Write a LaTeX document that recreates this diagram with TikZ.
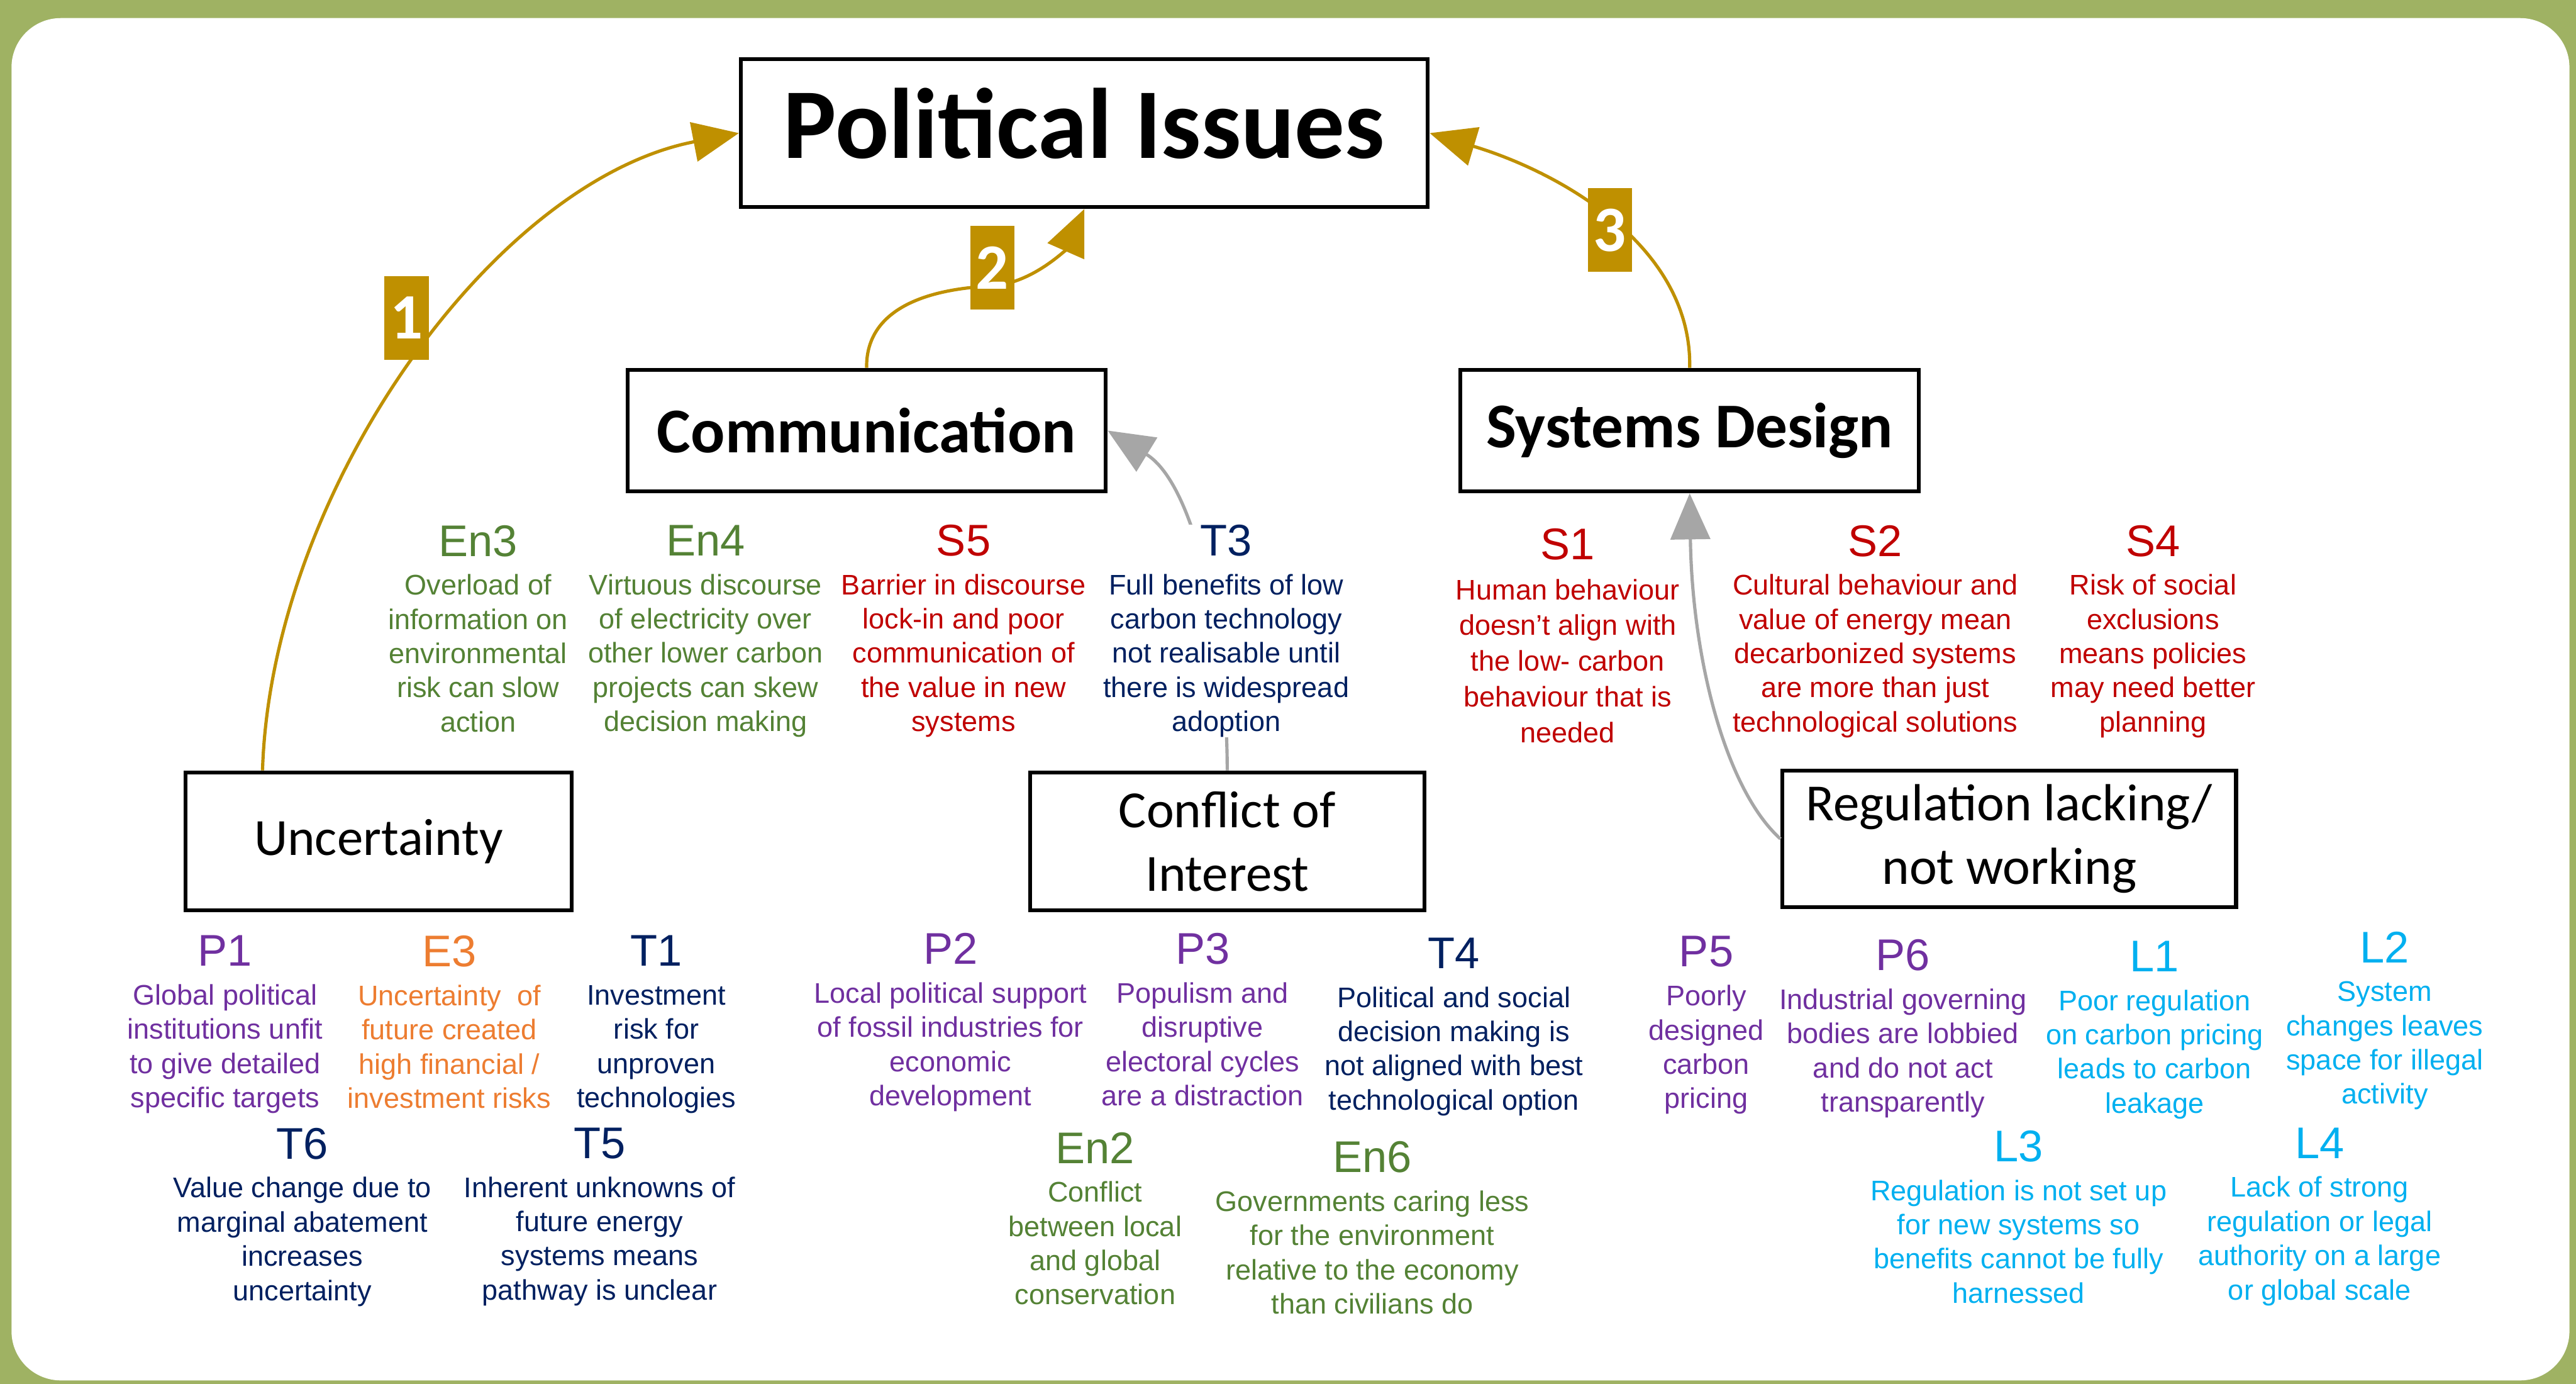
\documentclass[tikz,border=0pt]{standalone}
\usepackage{fontspec}
\setmainfont{Liberation Sans}
\newfontfamily\calibri{Carlito}
\usetikzlibrary{arrows.meta}

\definecolor{framegreen}{HTML}{9FB263}
\definecolor{gold}{HTML}{BF9000}
\definecolor{greyline}{HTML}{A6A6A6}
\definecolor{envgreen}{HTML}{548235}
\definecolor{socred}{HTML}{C00000}
\definecolor{technavy}{HTML}{002060}
\definecolor{polpurple}{HTML}{7030A0}
\definecolor{ecoorange}{HTML}{ED7D31}
\definecolor{legblue}{HTML}{00B0F0}

\newcommand{\codefont}{\fontsize{19.2}{22}\selectfont}
\newcommand{\issuefont}{\fontsize{12.27}{14.8}\selectfont}

\tikzset{
  issue/.style={align=center, anchor=north, inner sep=0pt, font=\issuefont},
  box/.style={rectangle, draw, line width=1.7pt, fill=white, inner sep=0pt,
    font=\calibri\fontsize{22.6}{27.4}\selectfont},
  headbox/.style={box, font=\calibri\bfseries\fontsize{27.6}{33}\selectfont},
  numtag/.style={rectangle, fill=gold, text=white, inner sep=0pt,
    minimum width=0.675cm, minimum height=1.275cm,
    font=\calibri\bfseries\fontsize{28}{32}\selectfont},
  link/.style={line width=1.4pt, -{Triangle[length=0.7cm,width=0.6cm]}},
}

% code on top, description lines below
\newcommand{\issue}[6][]{%
  \node at (#3) [issue, text=#4, #1] (#2) {{\codefont #5}\\[2pt]#6};}

\begin{document}
\begin{tikzpicture}[x=0.025cm, y=-0.025cm]
        \useasboundingbox (0,0) rectangle (1568,842);
        \fill[framegreen] (0,0) rectangle (1568,842);
        \fill[white, rounded corners=0.75cm] (7,11) rectangle (1564,840);

        % main boxes
        \node at (660,81) [headbox, minimum width=10.45cm, minimum height=2.25cm, text depth=0.3cm,
              font=\calibri\bfseries\fontsize{43.3}{50}\selectfont] (pol) {Political Issues};
        \node at (527.5,262) [headbox, minimum width=7.275cm, minimum height=1.85cm] (comm) {Communication};
        \node at (1028.5,262) [headbox, minimum width=6.975cm, minimum height=1.85cm] (sysd) {Systems Design};
        \node at (230.5,512) [box, minimum width=5.875cm, minimum height=2.1cm] (unc) {Uncertainty};
        \node at (747,512) [box, align=center, minimum width=6cm, minimum height=2.1cm] (coi) {Conflict of\\Interest};
        \node at (1223,510.5) [box, align=center, minimum width=6.9cm, minimum height=2.075cm] (reg) {Regulation lacking/\\not working};

        % links
        \draw[link, gold] ([xshift=1.2cm]unc.north west) .. controls (165,300) and (300,110) .. (pol.west);
        \draw[link, gold] (comm.north) .. controls (527,190) and (560,176) .. (604,174)
                                        .. controls (630,172) and (650,150) .. (pol.south);
        \draw[link, gold] (sysd.north) .. controls (1030,150) and (950,105) .. (pol.east);
        \draw[link, greyline] (coi.north) .. controls (747,390) and (728,295) .. (comm.east);
        \draw[link, greyline] (reg.west) .. controls (1050,480) and (1030,400) .. (sysd.south);

        \node at (247.5,193.5) [numtag] (tag1) {1};
        \node at (604,163) [numtag] (tag2) {2};
        \node at (980,140) [numtag] (tag3) {3};

        % under communication / systems design
        \issue{en3}{291,319.3}{envgreen}{En3}{Overload of\\information on\\environmental\\risk can slow\\action}
        \issue{en4}{429.5,319.3}{envgreen}{En4}{Virtuous discourse\\of electricity over\\other lower carbon\\projects can skew\\decision making}
        \issue{s5}{586.5,319}{socred}{S5}{Barrier in discourse\\lock-in and poor\\communication of\\the value in new\\systems}
        \issue[fill=white]{t3}{746.4,319}{technavy}{T3}{Full benefits of low\\carbon technology\\not realisable until\\there is widespread\\adoption}
        \issue[font=\fontsize{12.27}{15.45}\selectfont]{s1}{954.3,321.2}{socred}{S1}{Human behaviour\\doesn’t align with\\the low- carbon\\behaviour that is\\needed}
        \issue{s2}{1141.5,319.3}{socred}{S2}{Cultural behaviour and\\value of energy mean\\decarbonized systems\\are more than just\\technological solutions}
        \issue{s4}{1310.5,319.3}{socred}{S4}{Risk of social\\exclusions\\means policies\\may need better\\planning}

        % under uncertainty / conflict / regulation
        \issue{p1}{137,569.1}{polpurple}{P1}{Global political\\institutions unfit\\to give detailed\\specific targets}
        \issue{e3}{273.5,569.1}{ecoorange}{E3}{Uncertainty~ of\\future created\\high financial /\\investment risks}
        \issue{t1}{399.5,569.1}{technavy}{T1}{Investment\\risk for\\unproven\\technologies}
        \issue{p2}{578.5,567.6}{polpurple}{P2}{Local political support\\of fossil industries for\\economic\\development}
        \issue{p3}{732,567.6}{polpurple}{P3}{Populism and\\disruptive\\electoral cycles\\are a distraction}
        \issue{t4}{885,570.4}{technavy}{T4}{Political and social\\decision making is\\not aligned with best\\technological option}
        \issue{p5}{1038.6,569.5}{polpurple}{P5}{Poorly\\designed\\carbon\\pricing}
        \issue{p6}{1158.3,571.4}{polpurple}{P6}{Industrial governing\\bodies are lobbied\\and do not act\\transparently}
        \issue{l1}{1311.5,572.4}{legblue}{L1}{Poor regulation\\on carbon pricing\\leads to carbon\\leakage}
        \issue{l2}{1451.6,566.6}{legblue}{L2}{System\\changes leaves\\space for illegal\\activity}

        \issue{t6}{184,686.1}{technavy}{T6}{Value change due to\\marginal abatement\\increases\\uncertainty}
        \issue{t5}{365,686.1}{technavy}{T5}{Inherent unknowns of\\future energy\\systems means\\pathway is unclear}
        \issue{en2}{666.6,688.7}{envgreen}{En2}{Conflict\\between local\\and global\\conservation}
        \issue{en6}{835.3,694.3}{envgreen}{En6}{Governments caring less\\for the environment\\relative to the economy\\than civilians do}
        \issue{l3}{1228.7,687.7}{legblue}{L3}{Regulation is not set up\\for new systems so\\benefits cannot be fully\\harnessed}
        \issue{l4}{1411.9,686}{legblue}{L4}{Lack of strong\\regulation or legal\\authority on a large\\or global scale}
\end{tikzpicture}
\end{document}
